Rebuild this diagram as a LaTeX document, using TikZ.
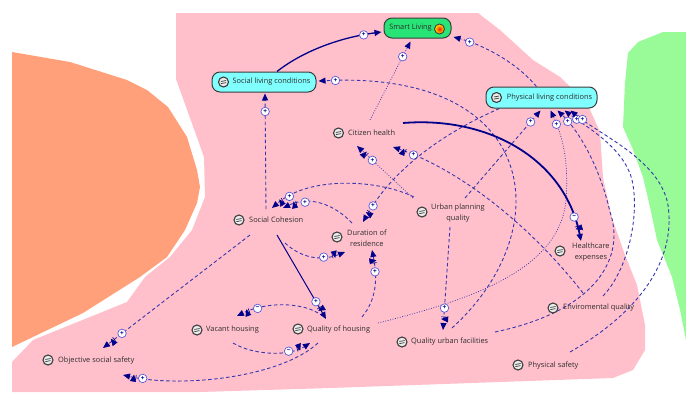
\documentclass[tikz,border=0pt]{standalone}
\usepackage{fontspec}
\setmainfont{Open Sans}
\usetikzlibrary{arrows.meta,calc,decorations.markings}

\definecolor{pinkbg}{RGB}{255,192,203}
\definecolor{salmonbg}{RGB}{255,160,122}
\definecolor{greenbg}{RGB}{152,251,152}
\definecolor{boxcyan}{RGB}{128,255,255}
\definecolor{goalgreen}{RGB}{40,228,118}
\definecolor{navyline}{RGB}{0,0,139}
\definecolor{linkblue}{RGB}{55,55,175}
\definecolor{txtgray}{RGB}{45,45,45}
\definecolor{rimgray}{RGB}{60,60,60}
\definecolor{mkrim}{RGB}{90,90,215}

\pgfdeclarelayer{bg}
\pgfdeclarelayer{links}
\pgfsetlayers{bg,links,main}

\tikzset{
  var/.style={anchor=west, inner sep=0pt, text=txtgray, align=center,
    font=\fontsize{7.4}{10.5}\selectfont},
  box/.style={draw=rimgray, line width=1pt, rounded corners=8pt, fill=boxcyan,
    inner sep=0pt, text=txtgray, font=\fontsize{7.4}{8}\selectfont},
  ico/.style={circle, inner sep=0pt, minimum size=10pt, draw=rimgray, line width=1.1pt,
    fill=gray!15, path picture={
      \draw[rimgray, line width=0.7pt]
        ($(path picture bounding box.center)+(-2.6,-0.5)$) -- ++(5.2,-1)
        ($(path picture bounding box.center)+(-2.6,1.6)$) -- ++(5.2,-1);}},
  goalico/.style={circle, inner sep=0pt, minimum size=10pt, draw=rimgray, line width=0.9pt,
    inner color=red!85!orange, outer color=yellow!90!orange},
  mk/.style={circle, solid, draw=mkrim, fill=white, line width=0.7pt, inner sep=0pt,
    minimum size=8.5pt, text=navyline, font=\fontsize{6.5}{6.5}\selectfont\bfseries},
  tip/.style={-{Triangle[length=7pt,width=6pt,color=navyline]}},
  lk/.style={tip, linkblue, line width=0.9pt, dash pattern=on 3.5pt off 2.5pt},
  dotlk/.style={tip, linkblue, line width=0.7pt, dash pattern=on 0.9pt off 1.6pt},
  solidlk/.style={tip, navyline, line width=1pt},
  sign/.style 2 args={postaction={decorate, decoration={markings,
    mark=at position #1 with {\node[mk]{#2};}}}},
  delay/.style={postaction={decorate, decoration={markings,
    mark=at position #1 with {\draw[navyline, solid, line width=0.6pt]
      (-1.1,-2.6) -- (-1.1,2.6) (1.1,-2.6) -- (1.1,2.6);}}}},
}

\begin{document}
\begin{tikzpicture}[x=1pt, y=-1pt]
\useasboundingbox (0,0) rectangle (686,392);

% coloured regions
\begin{pgfonlayer}{bg}
  \fill[white] (0,0) rectangle (686,392);
  \fill[salmonbg] (12,52) -- (70,62) -- (127,80) -- (147,90) -- (168,107) -- (187,137)
    -- (197,170) -- (200,187) -- (197,203) -- (185,230) -- (167,257) -- (140,277)
    -- (83,313) -- (12,347) -- cycle;
  \fill[greenbg] (663,32) -- (686,32) -- (686,340) -- (680,310) -- (672,277) -- (657,240)
    -- (650,207) -- (643,177) -- (632,147) -- (623,127) -- (625,83) -- (628,53)
    -- (638,42) -- cycle;
  \fill[pinkbg] (176,13) -- (478,13) -- (500,30) -- (533,60) -- (560,77) -- (587,103)
    -- (600,132) -- (603,178) -- (612,218) -- (625,255) -- (637,285) -- (645,325)
    -- (645,350) -- (633,370) -- (613,378) -- (330,388) -- (200,392) -- (12,392)
    -- (12,362) -- (33,340) -- (127,302) -- (145,277) -- (170,257) -- (192,230)
    -- (205,197) -- (204,157) -- (176,79) -- cycle;
\end{pgfonlayer}

% goal and aggregate boxes
\node[box, fill=goalgreen, minimum width=67pt, minimum height=20pt] (sl) at (417.5,28) {Smart Living\hspace*{14pt}};
\node[goalico] (slg) at ($(sl.east)+(-12,1)$) {};
\node[box, minimum width=104pt, minimum height=20pt] (slc) at (264,82) {\hspace*{15pt}Social living conditions};
\node[ico] (slci) at ($(slc.west)+(12,0)$) {};
\node[box, minimum width=111pt, minimum height=21pt] (plc) at (541.5,97.5) {\hspace*{16pt}Physical living conditions};
\node[ico] (plci) at ($(plc.west)+(11,0)$) {};

% variables
\node[var] (ch) at (348,133) {Citizen health};
\node[var] (sc) at (249,220) {Social Cohesion};
\node[var] (dr) at (347,238) {Duration of\\residence};
\node[var] (upq) at (431,213) {Urban planning\\quality};
\node[var] (he) at (572,252) {Healthcare\\expenses};
\node[var] (eq) at (563,308) {Enviromental quality};
\node[var] (ps) at (528,366) {Physical safety};
\node[var] (quf) at (411,342) {Quality urban facilities};
\node[var] (qoh) at (307,330) {Quality of housing};
\node[var] (vh) at (206,330) {Vacant housing};
\node[var] (oss) at (58,361) {Objective social safety};

\node[ico] (chi) at ($(ch.west)+(-9.5,0)$) {};
\node[ico] (sci) at ($(sc.west)+(-10,0)$) {};
\node[ico] (dri) at ($(dr.west)+(-10,-1)$) {};
\node[ico] (upqi) at ($(upq.west)+(-9,-1)$) {};
\node[ico] (hei) at ($(he.west)+(-12,-1)$) {};
\node[ico] (eqi) at ($(eq.west)+(-10,0)$) {};
\node[ico] (psi) at ($(ps.west)+(-10,-1)$) {};
\node[ico] (qufi) at ($(quf.west)+(-9,0)$) {};
\node[ico] (qohi) at ($(qoh.west)+(-9,-1)$) {};
\node[ico] (vhi) at ($(vh.west)+(-9,0)$) {};
\node[ico] (ossi) at ($(oss.west)+(-10,-1)$) {};

% causal links
\begin{pgfonlayer}{links}
  % into Smart Living
  \draw[solidlk, line width=1.3pt, sign={-18pt}{+}]
    ($(slc.north)+(13,0)$) .. controls +(28,-22) and +(-38,5) .. ($(sl.west)+(-2,4)$);
  \draw[lk, sign={-17pt}{+}]
    ($(plc.north)+(-5,0)$) .. controls +(-20,-24) and +(30,8) .. ($(sl.east)+(2,9)$);
  \draw[dotlk, sign={-17pt}{+}] ($(ch.west)+(22,-13)$) -- ($(sl.south)+(-7,3)$);

  % into Social living conditions
  \draw[lk, sign={-18pt}{+}] ($(sc.west)+(17,-11)$) -- ($(slc.south)+(1,1)$);
  \draw[lk, sign={-17pt}{+}]
    ($(quf.west)+(41,-14)$) .. controls (560,230) and (540,70) .. ($(slc.east)+(2,-1)$);

  % into Physical living conditions
  \draw[lk, sign={-15pt}{+}] ($(upq.west)+(34,-15)$) -- ($(plc.south)+(-1,2)$);
  \draw[dotlk, sign={-15pt}{+}]
    ($(qoh.west)+(71,-7)$) .. controls (470,300) and (560,270) .. (566,200)
    .. controls (569,160) and (562,135) .. ($(plc.south)+(9,2)$);
  \draw[lk, sign={-15pt}{+}]
    ($(quf.west)+(84,-10)$) .. controls (600,310) and (625,255) .. (610,212)
    .. controls (600,168) and (580,132) .. ($(plc.south)+(16,2)$);
  \draw[lk, sign={-15pt}{+}]
    ($(eq.west)+(40,-12)$) .. controls (628,270) and (640,215) .. (632,180)
    .. controls (624,148) and (588,128) .. ($(plc.south)+(23,2)$);
  \draw[lk, sign={-15pt}{+}]
    ($(ps.west)+(42,-14)$) .. controls (640,312) and (676,260) .. (668,205)
    .. controls (660,160) and (600,135) .. ($(plc.south)+(29,2)$);

  % health
  \draw[solidlk, line width=1.8pt, sign={-25pt}{−}, delay={-14pt}]
    ($(ch.west)+(55,-10)$) .. controls (490,116) and (565,160) .. ($(he.west)+(9,-11)$);
  \draw[lk, sign={-22pt}{+}, delay={-12pt}]
    ($(eq.west)+(20,-15)$) .. controls (530,225) and (460,170) .. ($(ch.west)+(45,14)$);
  \draw[dotlk, sign={-21pt}{+}, delay={-12pt}] ($(upq.west)+(-18,-15)$) -- ($(ch.west)+(9,13)$);

  % cohesion and residence
  \draw[lk, sign={-19pt}{+}, delay={-11pt}]
    ($(plc.south)+(-42,0)$) .. controls (450,130) and (395,165) .. ($(dr.west)+(16,-16)$);
  \draw[lk, sign={-21pt}{+}, delay={-12pt}]
    ($(upq.west)+(-17,-16)$) .. controls (380,180) and (310,175) .. ($(sc.west)+(23,-12)$);
  \draw[lk, sign={-23pt}{+}, delay={-13pt}]
    ($(dr.west)+(5,-15)$) .. controls (335,205) and (310,195) .. ($(sc.west)+(34,-12)$);
  \draw[lk, sign={-22pt}{+}, delay={-12pt}]
    ($(sc.west)+(36,23)$) .. controls (300,257) and (320,262) .. ($(dr.west)+(-2,14)$);
  \draw[solidlk, sign={-20pt}{+}, delay={-12pt}] ($(sc.west)+(28,15)$) -- ($(qoh.west)+(19,-11)$);
  \draw[lk, sign={-22pt}{+}, delay={-12pt}]
    ($(qoh.west)+(55,-13)$) .. controls (376,300) and (378,280) .. ($(dr.west)+(25,12)$);

  % housing
  \draw[lk, sign={-22pt}{−}, delay={-12pt}]
    ($(qoh.west)+(11,-17)$) .. controls (300,302) and (265,302) .. ($(vh.west)+(31,-14)$);
  \draw[lk, sign={-23pt}{−}, delay={-13pt}]
    ($(vh.west)+(27,13)$) .. controls (255,356) and (290,356) .. ($(qoh.west)+(3,13)$);

  % safety and facilities
  \draw[lk, sign={-20pt}{+}, delay={-12pt}]
    ($(qoh.west)+(11,13)$) .. controls (280,378) and (180,388) .. ($(oss.west)+(65,14)$);
  \draw[lk, sign={-24pt}{+}, delay={-13pt}] ($(sc.west)+(1,15)$) -- ($(oss.west)+(45,-13)$);
  \draw[lk, sign={-22pt}{+}, delay={-12pt}] ($(upq.west)+(19,14)$) -- ($(quf.west)+(32,-12)$);
\end{pgfonlayer}
\end{tikzpicture}
\end{document}
